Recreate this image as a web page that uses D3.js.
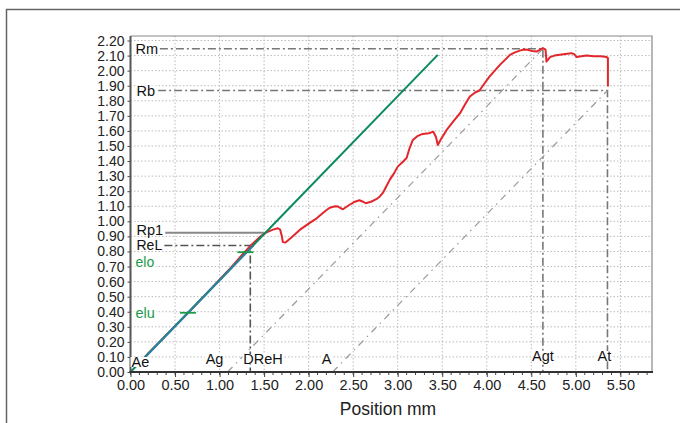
<!DOCTYPE html>
<html>
<head>
<meta charset="utf-8">
<script src="https://cdn.jsdelivr.net/npm/d3@7"></script>
<style>
  body { margin: 0; background: #fff; }
  svg text { font-family: "Liberation Sans", Arial, Helvetica, sans-serif; }
</style>
</head>
<body>
<div id="chart"></div>
<script>
// Force curve (red)
var curveX = [0.08, 0.2, 0.4, 0.65, 0.9, 1.1, 1.25, 1.35, 1.45, 1.52, 1.6, 1.655, 1.68, 1.70, 1.71, 1.74, 1.80, 1.90, 2.0, 2.09,
    2.17, 2.236, 2.30, 2.33, 2.385, 2.46, 2.52, 2.57, 2.61, 2.64, 2.70, 2.76, 2.80, 2.835, 2.87, 2.91, 2.96, 3.00, 3.05, 3.10,
    3.13, 3.17, 3.22, 3.28, 3.35, 3.40, 3.43, 3.45, 3.48, 3.55, 3.62, 3.70, 3.76, 3.81, 3.87, 3.92, 3.98, 4.03, 4.09, 4.15,
    4.21, 4.26, 4.31, 4.37, 4.42, 4.46, 4.51, 4.56, 4.60, 4.63, 4.66, 4.67, 4.71, 4.76, 4.82, 4.88, 4.95, 4.98, 5.01, 5.06,
    5.12, 5.20, 5.28, 5.345, 5.36, 5.36];
var curveY = [0.045, 0.125, 0.245, 0.395, 0.55, 0.675, 0.775, 0.84, 0.895, 0.925, 0.945, 0.954, 0.945, 0.90, 0.862, 0.86, 0.89, 0.943, 0.985, 1.02,
    1.06, 1.09, 1.10, 1.098, 1.08, 1.11, 1.13, 1.14, 1.13, 1.12, 1.13, 1.147, 1.165, 1.19, 1.23, 1.275, 1.32, 1.363, 1.39, 1.42,
    1.48, 1.54, 1.565, 1.58, 1.585, 1.595, 1.56, 1.507, 1.54, 1.607, 1.66, 1.718, 1.78, 1.828, 1.855, 1.87, 1.92, 1.96, 2.0, 2.04,
    2.075, 2.105, 2.12, 2.133, 2.14, 2.138, 2.13, 2.127, 2.14, 2.15, 2.14, 2.06, 2.09, 2.10, 2.105, 2.11, 2.116, 2.11, 2.09, 2.095,
    2.10, 2.095, 2.095, 2.09, 2.083, 1.895];

// Elastic line (green) and fit segment (blue)
var elasticX = [0, 3.45];
var elasticY = [0, 2.105];
var fitX = [0.15, 1.38];
var fitY = [0.09, 0.84];

// elu / elo markers
var markerNames = ["elu", "elo"];
var markerX = [0.645, 1.29];
var markerY = [0.393, 0.795];

// Characteristic levels
var Rm = 2.145, Rb = 1.868, Rp1 = 0.925, ReL = 0.84;
var Agt = 4.63, At = 5.355, DReH = 1.345, Ag = 1.09, A = 2.27;

var xTicks = [0, 0.5, 1, 1.5, 2, 2.5, 3, 3.5, 4, 4.5, 5, 5.5];
var yTicks = d3.range(0, 23).map(function (i) { return i / 10; });

drawChart();

function drawChart() {
    var width = 680, height = 423;
    var mLeft = 130.5, mRight = 652, mTop = 36, mBottom = 372;

    var svg = d3.select("#chart").append("svg")
        .attr("width", width)
        .attr("height", height);

    // outer frame
    svg.append("rect")
        .attr("x", 6.5).attr("y", 9.5)
        .attr("width", 700).attr("height", 500)
        .style("fill", "none").style("stroke", "#666").style("stroke-width", 1.5);

    var x = d3.scaleLinear().domain([0, 5.855]).range([mLeft, mRight]);
    var y = d3.scaleLinear().domain([0, 2.23]).range([mBottom, mTop]);

    // grid
    svg.append("g").selectAll("line")
        .data(xTicks.slice(1))
        .enter().append("line")
        .attr("x1", d => x(d)).attr("x2", d => x(d))
        .attr("y1", mTop).attr("y2", mBottom)
        .style("stroke", "#bbb").style("stroke-dasharray", "1.5,2");

    svg.append("g").selectAll("line")
        .data(yTicks.slice(1))
        .enter().append("line")
        .attr("x1", mLeft).attr("x2", mRight)
        .attr("y1", d => y(d)).attr("y2", d => y(d))
        .style("stroke", "#bbb").style("stroke-dasharray", "1.5,2");

    // top and right border
    svg.append("path")
        .attr("d", "M" + mLeft + "," + mTop + "H" + mRight + "V" + mBottom)
        .style("fill", "none").style("stroke", "#888").style("stroke-width", 1.2);

    var line = d3.line().x(d => x(d[0])).y(d => y(d[1]));
    function pts(xs, ys) { return xs.map((v, i) => [v, ys[i]]); }

    var dashDot = "8,3,2,3";
    var refColor = "#777";

    // level lines
    svg.append("path").datum([[0.33, Rm], [Agt, Rm], [Agt, 0]])
        .attr("d", line).style("fill", "none")
        .style("stroke", refColor).style("stroke-width", 1.6).style("stroke-dasharray", dashDot);
    svg.append("path").datum([[0.31, Rb], [At, Rb], [At, 0]])
        .attr("d", line).style("fill", "none")
        .style("stroke", refColor).style("stroke-width", 1.6).style("stroke-dasharray", dashDot);
    svg.append("path").datum([[0.38, ReL], [DReH, ReL], [DReH, 0]])
        .attr("d", line).style("fill", "none")
        .style("stroke", "#555").style("stroke-width", 1.6).style("stroke-dasharray", dashDot);
    svg.append("path").datum([[0.39, Rp1], [1.505, Rp1]])
        .attr("d", line).style("fill", "none")
        .style("stroke", "#888").style("stroke-width", 2);

    // diagonal offset lines
    svg.append("path").datum([[Ag, 0], [Agt, Rm]])
        .attr("d", line).style("fill", "none")
        .style("stroke", "#999").style("stroke-width", 1.2).style("stroke-dasharray", "7,5,1.5,5");
    svg.append("path").datum([[A, 0], [At, Rb]])
        .attr("d", line).style("fill", "none")
        .style("stroke", "#999").style("stroke-width", 1.2).style("stroke-dasharray", "7,5,1.5,5");

    // curves
    svg.append("path").datum(pts(curveX, curveY))
        .attr("d", line).style("fill", "none")
        .style("stroke", "#e3262b").style("stroke-width", 2).style("stroke-linejoin", "round");
    svg.append("path").datum(pts(elasticX, elasticY))
        .attr("d", line).style("fill", "none")
        .style("stroke", "#0b8a5f").style("stroke-width", 2);
    svg.append("path").datum(pts(fitX, fitY))
        .attr("d", line).style("fill", "none")
        .style("stroke", "#2f7fa8").style("stroke-width", 2).style("opacity", 0.9);

    // elu / elo ticks
    svg.append("g").selectAll("line")
        .data(markerNames)
        .enter().append("line")
        .attr("x1", (d, i) => x(markerX[i]) - 8).attr("x2", (d, i) => x(markerX[i]) + 8)
        .attr("y1", (d, i) => y(markerY[i])).attr("y2", (d, i) => y(markerY[i]))
        .style("stroke", "#1a9a4a").style("stroke-width", 1.8);

    // axes
    var yAxis = d3.axisLeft(y).tickValues(yTicks).tickFormat(d3.format(".2f")).tickSize(3).tickPadding(3);
    var gy = svg.append("g").attr("transform", "translate(" + mLeft + ",0)").call(yAxis);
    gy.select(".domain").remove();
    gy.selectAll("line").style("stroke", "#444");
    gy.selectAll("text").style("font-size", "14px").style("fill", "#222");

    var minor = d3.range(0, 59).map(function (i) { return i / 10; });
    svg.append("g").selectAll("line")
        .data(minor)
        .enter().append("line")
        .attr("x1", d => x(d)).attr("x2", d => x(d))
        .attr("y1", mBottom).attr("y2", mBottom + 3)
        .style("stroke", "#444");

    var xAxis = d3.axisBottom(x).tickValues(xTicks).tickFormat(d3.format(".2f")).tickSize(5).tickPadding(3);
    var gx = svg.append("g").attr("transform", "translate(0," + mBottom + ")").call(xAxis);
    gx.select(".domain").remove();
    gx.selectAll("line").style("stroke", "#444");
    gx.selectAll("text").style("font-size", "14.5px").style("fill", "#222");

    svg.append("line")
        .attr("x1", mLeft).attr("x2", mLeft).attr("y1", mTop).attr("y2", mBottom + 1)
        .style("stroke", "#555").style("stroke-width", 2);
    svg.append("line")
        .attr("x1", mLeft - 1).attr("x2", mRight + 1).attr("y1", mBottom).attr("y2", mBottom)
        .style("stroke", "#333").style("stroke-width", 2);

    // annotation labels with white backgrounds
    function label(txt, px, py, anchor, color, size) {
        var t = svg.append("text")
            .attr("x", px).attr("y", py)
            .attr("text-anchor", anchor || "start")
            .style("font-size", (size || 14.5) + "px")
            .style("fill", color || "#111")
            .text(txt);
        var b = t.node().getBBox();
        svg.insert("rect", function () { return t.node(); })
            .attr("x", b.x - 1).attr("y", b.y + 3)
            .attr("width", b.width + 2).attr("height", b.height - 6)
            .style("fill", "#fff");
    }

    label("Rm", mLeft + 5, y(Rm) + 5.5);
    label("Rb", mLeft + 6, y(Rb) + 5);
    label("ReL", mLeft + 6, y(ReL) + 5, "start", "#111", 14);
    label("Rp1", mLeft + 6, y(Rp1) + 2);
    label("elo", mLeft + 5, y(markerY[1]) + 14.5, "start", "#1a9a4a", 14);
    label("elu", mLeft + 5, y(markerY[0]) + 5, "start", "#1a9a4a");
    label("Ae", mLeft + 1, y(0) - 5);
    label("Ag", x(Ag) - 13, y(0) - 8, "middle");
    label("DReH", x(DReH) - 7, y(0) - 8);
    label("A", x(A) - 6, y(0) - 8, "middle");
    label("Agt", x(Agt), y(0) - 11, "middle");
    label("At", x(At) - 3, y(0) - 11, "middle");

    // axis title
    svg.append("text")
        .attr("x", 388).attr("y", 415)
        .attr("text-anchor", "middle")
        .style("font-size", "17.5px")
        .style("fill", "#222")
        .text("Position mm");
}
</script>
</body>
</html>
